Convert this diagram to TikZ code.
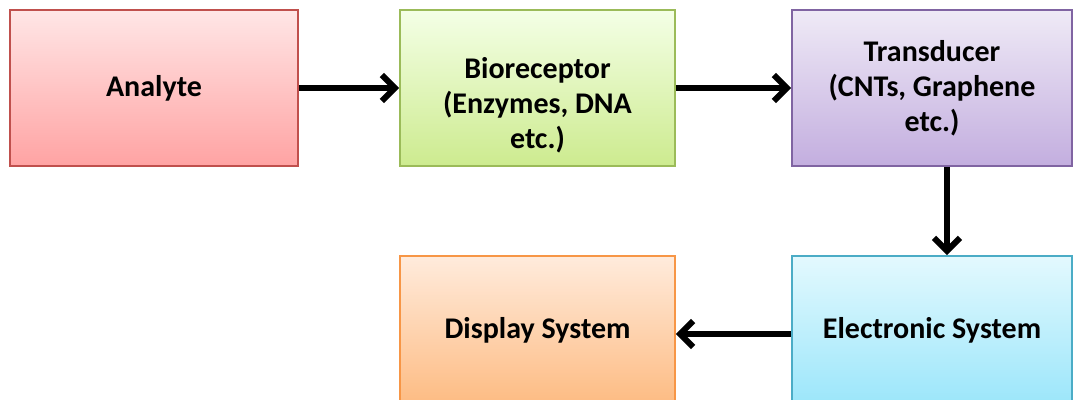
\documentclass[tikz,border=0pt]{standalone}
\usepackage{fontspec}
\setmainfont{Carlito}
\usetikzlibrary{arrows.meta,positioning}

\definecolor{anaTop}{HTML}{FFE6E6}
\definecolor{anaBot}{HTML}{FFA3A3}
\definecolor{anaLine}{HTML}{C0504D}
\definecolor{bioTop}{HTML}{F4FFE6}
\definecolor{bioBot}{HTML}{CDEB8F}
\definecolor{bioLine}{HTML}{9BBB59}
\definecolor{traTop}{HTML}{EFEAF6}
\definecolor{traBot}{HTML}{C3AEDF}
\definecolor{traLine}{HTML}{8064A2}
\definecolor{disTop}{HTML}{FFEBDC}
\definecolor{disBot}{HTML}{FDB97E}
\definecolor{disLine}{HTML}{F79646}
\definecolor{eleTop}{HTML}{E3F9FE}
\definecolor{eleBot}{HTML}{98E5FA}
\definecolor{eleLine}{HTML}{4BACC6}

\begin{document}
\begin{tikzpicture}[>={Straight Barb[length=13pt,width=26pt]}, node distance=2cm, on grid]

	\tikzset{
		bnode/.style = {rectangle, draw, line width=1.8pt, minimum height=156pt,
			align=center, font=\bfseries\fontsize{30}{35}\selectfont},
		flow/.style = {->, line width=6pt}
	}

	\useasboundingbox (0,0) rectangle (1073pt,399pt);

	 \node[bnode, minimum width=288pt, draw=anaLine, top color=anaTop, bottom color=anaBot]
	 	(ana) at (154pt,311pt) {Analyte};
	 \node[bnode, minimum width=275pt, draw=bioLine, top color=bioTop, bottom color=bioBot]
	 	(bio) [right = 383.5pt of ana]
	 	{\raisebox{-25pt}[0pt][0pt]{\begin{tabular}{@{}c@{}}Bioreceptor\\(Enzymes, DNA\\etc.)\end{tabular}}};
	 \node[bnode, minimum width=280pt, draw=traLine, top color=traTop, bottom color=traBot]
	 	(tra) [right = 394.5pt of bio] {Transducer\\(CNTs, Graphene\\etc.)};
	 \node[bnode, minimum width=280pt, draw=eleLine, top color=eleTop, bottom color=eleBot]
	 	(ele) [below = 246pt of tra] {\raisebox{-4pt}[0pt][0pt]{Electronic System}};
	 \node[bnode, minimum width=275pt, draw=disLine, top color=disTop, bottom color=disBot]
	 	(dis) [left = 394.5pt of ele] {\raisebox{-4pt}[0pt][0pt]{Display System}};

	\path[flow]
	(ana) edge node {} (bio)
	(bio) edge node {} (tra)
	([xshift=15pt]tra.south) edge node {} ([xshift=15pt]ele.north)
	(ele) edge node {} (dis)
	;

\end{tikzpicture}
\end{document}
